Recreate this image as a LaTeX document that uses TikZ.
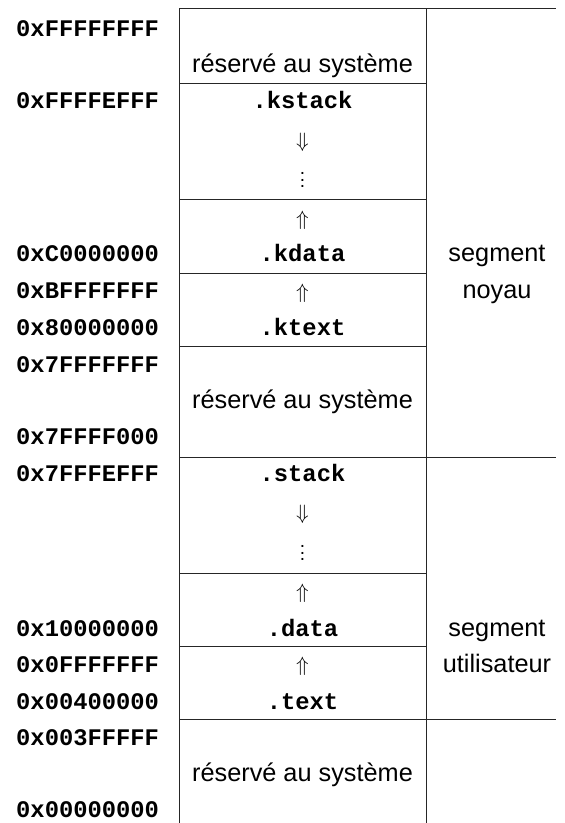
\documentclass[tikz,border=0pt]{standalone}
\usepackage{fontspec}
\setmainfont{Liberation Sans}
\setmonofont{Liberation Mono}
\newcommand{\myvdots}{\vbox{\baselineskip6.5pt\lineskiplimit0pt\hbox{.}\hbox{.}\hbox{.}}}
\begin{document}
\begin{tikzpicture}[x=1pt,y=-1pt,
  addr/.style={anchor=base west,inner sep=0pt,font=\fontsize{23.8}{28}\selectfont\ttfamily\bfseries},
  seg/.style={anchor=base,inner sep=0pt,font=\fontsize{23.8}{28}\selectfont\ttfamily\bfseries},
  txt/.style={anchor=base,inner sep=0pt,font=\fontsize{25.3}{28}\selectfont},
  arr/.style={anchor=center,inner sep=0pt,font=\fontsize{20}{24}\selectfont},
  dots/.style={anchor=center,inner sep=0pt,font=\fontsize{19}{22}\selectfont},
  gridline/.style={line width=0.8pt,draw=black!85}]
\useasboundingbox (0,0) rectangle (565,823);
% grid
\draw[gridline] (179,8.5) -- (179,823);
\draw[gridline] (426,8.5) -- (426,823);
\draw[gridline] (179,8.5) -- (556,8.5);
\foreach \yy in {83,199,273,346,573,646} \draw[gridline] (179,\yy) -- (426,\yy);
\foreach \yy in {457,719} \draw[gridline] (179,\yy) -- (556,\yy);
% kernel part
\node[addr] (a1) at (16,36) {0xFFFFFFFF};
\node[txt] (r1) at (302.5,72) {réservé au système};
\node[addr] (a2) at (16,108) {0xFFFFEFFF};
\node[seg] (kstack) at (302.5,108) {.kstack};
\node[arr] (kd) at (302.5,142) {$\Downarrow$};
\node[dots] (kv) at (302.5,180) {\myvdots};
\node[arr] (ku1) at (302.5,220) {$\Uparrow$};
\node[addr] (a3) at (16,261) {0xC0000000};
\node[seg] (kdata) at (302.5,261) {.kdata};
\node[txt] (sk1) at (497,261) {segment};
\node[addr] (a4) at (16,298) {0xBFFFFFFF};
\node[arr] (ku2) at (302.5,293) {$\Uparrow$};
\node[txt] (sk2) at (497,298) {noyau};
\node[addr] (a5) at (16,335) {0x80000000};
\node[seg] (ktext) at (302.5,335) {.ktext};
\node[addr] (a6) at (16,372) {0x7FFFFFFF};
\node[txt] (r2) at (302.5,408) {réservé au système};
\node[addr] (a7) at (16,444) {0x7FFFF000};
% user part
\node[addr] (a8) at (16,481) {0x7FFFEFFF};
\node[seg] (stack) at (302.5,481) {.stack};
\node[arr] (ud) at (302.5,514) {$\Downarrow$};
\node[dots] (uv) at (302.5,553) {\myvdots};
\node[arr] (uu1) at (302.5,593) {$\Uparrow$};
\node[addr] (a9) at (16,636) {0x10000000};
\node[seg] (data) at (302.5,636) {.data};
\node[txt] (su1) at (497,636) {segment};
\node[addr] (a10) at (16,672) {0x0FFFFFFF};
\node[arr] (uu2) at (302.5,666) {$\Uparrow$};
\node[txt] (su2) at (497,672) {utilisateur};
\node[addr] (a11) at (16,709) {0x00400000};
\node[seg] (text) at (302.5,709) {.text};
\node[addr] (a12) at (16,745) {0x003FFFFF};
\node[txt] (r3) at (302.5,781) {réservé au système};
\node[addr] (a13) at (16,817) {0x00000000};
\end{tikzpicture}
\end{document}
